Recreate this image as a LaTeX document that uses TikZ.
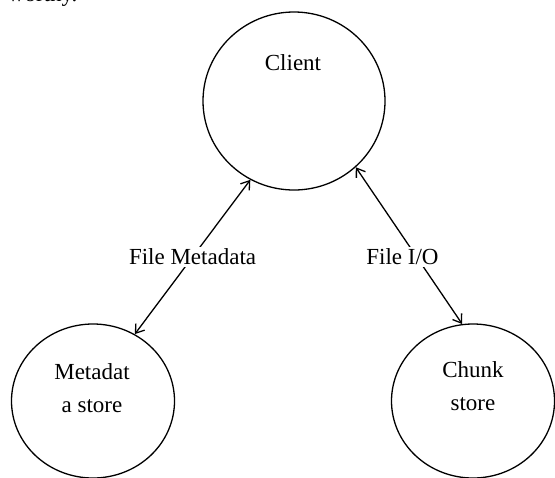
\documentclass[tikz,border=0pt]{standalone}
\usepackage{fontspec}
\setmainfont{Liberation Serif}
\usetikzlibrary{shapes.geometric,arrows.meta}

\begin{document}
\begin{tikzpicture}[x=0.5pt,y=-0.5pt,>={Straight Barb[length=4pt,width=5.5pt]},line width=0.65pt,
		store/.style={draw,ellipse,inner sep=0pt,minimum width=81.5pt,minimum height=77pt},
		txt/.style={inner sep=1pt,align=center,font=\fontsize{11.5}{16.5}\selectfont},
		lbl/.style={txt,fill=white}]
		\useasboundingbox (0,0) rectangle (555,477);
		% tail of the text line above
		\node[txt,anchor=base east] (prev) at (80,1) {worthy.};
		
		\node[store,minimum width=91pt,minimum height=89pt] (client) at (294,101) {};
		\node[store] (meta) at (93,401) {};
		\node[store] (chunk) at (473,401) {};
		
		\node[txt] (clienttxt) at (293,63) {Client};
		\node[txt] (metatxt) at (92,388) {Metadat\\a store};
		\node[txt] (chunktxt) at (473,386) {Chunk\\store};
		
		\path[<->] (meta.58) edge node[lbl] {File Metadata} (client.241);
		\path[<->] (client.313) edge node[lbl,pos=0.57,xshift=-7pt] {File I/O} (chunk.98);
\end{tikzpicture}
\end{document}
